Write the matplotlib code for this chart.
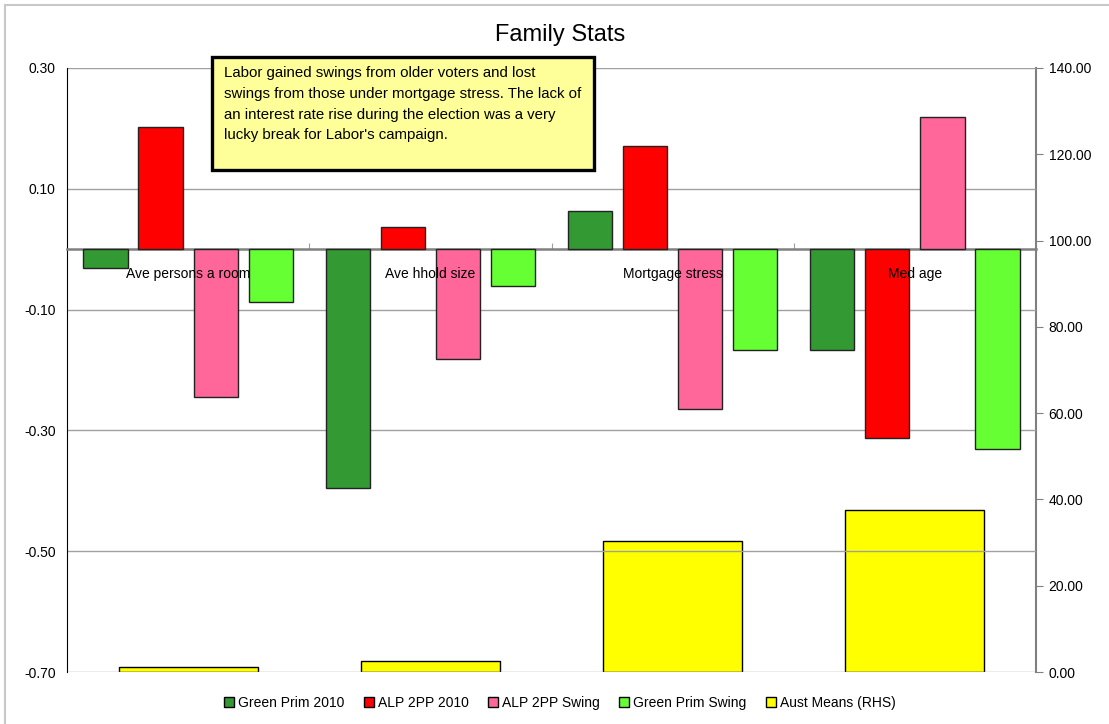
import numpy as np
import matplotlib.pyplot as plt
from matplotlib.patches import Patch, Rectangle
from matplotlib.lines import Line2D
from matplotlib.ticker import FormatStrFormatter

plt.rcParams['font.family'] = ['Liberation Sans Narrow', 'Liberation Sans', 'DejaVu Sans']

categories = ['Ave persons a room', 'Ave hhold size', 'Mortgage stress', 'Med age']
green_prim_2010 = [-0.031, -0.396, 0.063, -0.167]
alp_2pp_2010 = [0.202, 0.036, 0.171, -0.313]
alp_2pp_swing = [-0.245, -0.182, -0.265, 0.219]
green_prim_swing = [-0.088, -0.061, -0.167, -0.331]
aust_means = [1.1, 2.6, 30.3, 37.6]

series = [
    ('Green Prim 2010', green_prim_2010, '#339933'),
    ('ALP 2PP 2010', alp_2pp_2010, '#FF0000'),
    ('ALP 2PP Swing', alp_2pp_swing, '#FF6699'),
    ('Green Prim Swing', green_prim_swing, '#66FF33'),
]
rhs_color = '#FFFF00'

fig = plt.figure(figsize=(11.09, 7.24), dpi=100)
ax = fig.add_axes([0.0604, 0.0718, 0.8738, 0.8343])
ax2 = ax.twinx()

x = np.arange(len(categories))
offsets = [-0.341, -0.114, 0.114, 0.341]
bw = 0.182

# secondary series behind, primary clustered bars in front
ax2.bar(x, aust_means, width=0.574, color=rhs_color, edgecolor='black', linewidth=1.0, zorder=2)
ax2.set_zorder(1)
ax.set_zorder(2)
ax.patch.set_visible(False)

for (name, vals, col), off in zip(series, offsets):
    ax.bar(x + off, vals, width=bw, color=col, edgecolor='#222222', linewidth=1.0, zorder=3)

ax.set_xlim(-0.5, 3.5)
ax.set_ylim(-0.70, 0.30)
ax.set_yticks(np.arange(-0.70, 0.31, 0.20))
ax.yaxis.set_major_formatter(FormatStrFormatter('%.2f'))
ax.grid(axis='y', color='#A0A0A0', linewidth=1.0, zorder=0)
ax.set_axisbelow(True)
ax.tick_params(axis='y', length=0, pad=8, labelsize=10)

# category axis sits on zero
ax.spines['bottom'].set_position(('data', 0))
ax.spines['bottom'].set_color('#808080')
ax.spines['bottom'].set_linewidth(1.8)
ax.spines['bottom'].set_zorder(2.5)
ax.set_xticks([0.5, 1.5, 2.5])
ax.set_xticklabels([])
ax.tick_params(axis='x', direction='in', length=4, color='#A0A0A0')
ax.spines['top'].set_visible(False)
ax.spines['right'].set_visible(False)
ax.spines['left'].set_color('black')

for xi, lab in zip(x, categories):
    ax.text(xi, -0.041, lab, ha='center', va='center', fontsize=10, zorder=10)

ax2.set_ylim(0, 140)
ax2.set_yticks(np.arange(0, 141, 20))
ax2.yaxis.set_major_formatter(FormatStrFormatter('%.2f'))
ax2.tick_params(axis='y', length=5, color='#808080', pad=4, labelsize=10)
ax2.spines['right'].set_color('#808080')
ax2.spines['right'].set_linewidth(1.5)
for s in ['top', 'left', 'bottom']:
    ax2.spines[s].set_visible(False)

fig.text(0.505, 0.952, 'Family Stats', ha='center', va='center', fontsize=17)

# note box
box = Rectangle((0.191, 0.765), 0.345, 0.156, transform=fig.transFigure,
                facecolor='#FFFF99', edgecolor='black', linewidth=2.4, zorder=20)
fig.patches.append(box)
note = ("Labor gained swings from older voters and lost\n"
        "swings from those under mortgage stress. The lack of\n"
        "an interest rate rise during the election was a very\n"
        "lucky break for Labor's campaign.")
fig.text(0.202, 0.909, note, ha='left', va='top', fontsize=10.8, linespacing=1.62, zorder=21)

# outer chart frame
fig.add_artist(Line2D([0.0045, 0.0045], [0, 0.993], transform=fig.transFigure, color='#C8C8C8', lw=1.5))
fig.add_artist(Line2D([0.0045, 1.0], [0.993, 0.993], transform=fig.transFigure, color='#C8C8C8', lw=1.5))

handles = [Patch(facecolor=c, edgecolor='black', label=n) for n, _, c in series]
handles.append(Patch(facecolor=rhs_color, edgecolor='black', label='Aust Means (RHS)'))
fig.legend(handles=handles, loc='center', bbox_to_anchor=(0.505, 0.029), ncol=5, frameon=False,
           fontsize=10, handlelength=0.7, handleheight=0.7, handletextpad=0.3, columnspacing=1.4)

fig.savefig('out.png', dpi=100)
